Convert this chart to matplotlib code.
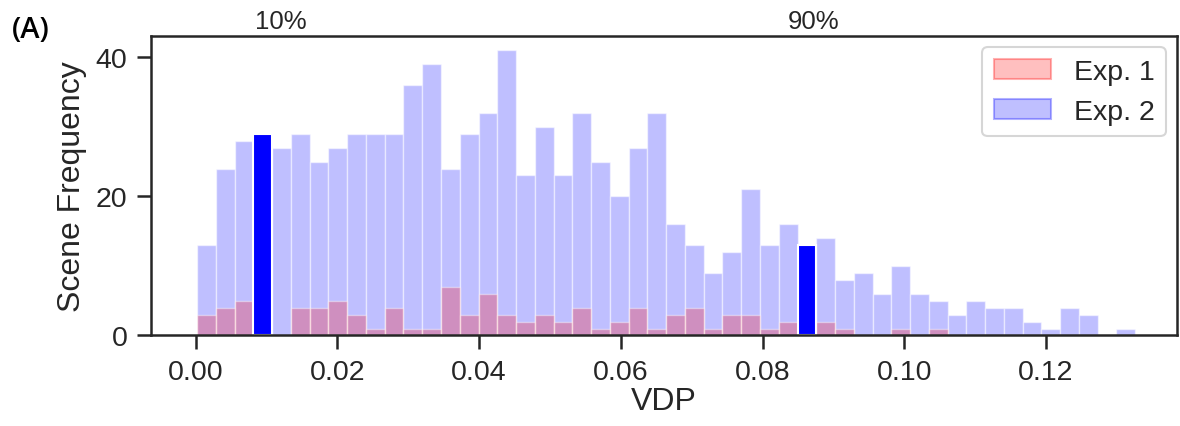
import numpy as np
import matplotlib
matplotlib.use("Agg")
import matplotlib.pyplot as plt
from matplotlib.patches import Patch

plt.rcParams["font.family"] = ["Liberation Sans", "DejaVu Sans"]

# histogram layout: 50 equal bins over the Exp. 2 range
vdp_min = 0.0002
vdp_max = 0.1326
n_bins = 50

exp2_counts = [13, 24, 28, 29, 27, 29, 25, 27, 29, 29,
               29, 36, 39, 24, 29, 32, 41, 23, 30, 23,
               32, 25, 20, 27, 32, 16, 13, 9, 12, 21,
               13, 16, 13, 14, 8, 9, 6, 10, 6, 5,
               3, 5, 4, 4, 2, 1, 4, 3, 0, 1]
exp1_counts = [3, 4, 5, 0, 0, 4, 4, 5, 3, 1,
               4, 1, 1, 7, 3, 6, 3, 2, 3, 2,
               4, 1, 2, 4, 1, 3, 4, 1, 3, 3,
               1, 2, 0, 2, 1, 0, 0, 1, 0, 1,
               0, 0, 0, 0, 0, 0, 0, 0, 0, 0]

# bins holding the 10th / 90th percentile, and where the labels sit
highlight_bins = [3, 32]
pct_labels = ["10%", "90%"]
pct_values = [0.0120, 0.0872]

x_ticks = [0.00, 0.02, 0.04, 0.06, 0.08, 0.10, 0.12]
y_ticks = [0, 20, 40]

edges = np.linspace(vdp_min, vdp_max, n_bins + 1)
width = edges[1] - edges[0]
exp2 = np.array(exp2_counts)
exp1 = np.array(exp1_counts)

fig = plt.figure(figsize=(11.8, 4.27), dpi=100)
ax = fig.add_axes([0.128, 0.212, 0.8695, 0.7014])

ax.bar(edges[:-1], exp2, width=width, align="edge",
       facecolor=(0, 0, 1, 0.25), edgecolor=(1, 1, 1, 0.5), linewidth=1)
ax.bar(edges[:-1], exp1, width=width, align="edge",
       facecolor=(1, 0, 0, 0.25), edgecolor=(1, 1, 1, 0.4), linewidth=1)
ax.bar(edges[highlight_bins], exp2[highlight_bins], width=width, align="edge",
       facecolor="blue", edgecolor="white", linewidth=1.5)

ax.set_xlim(-0.0063, 0.1385)
ax.set_ylim(0, 43.05)
ax.set_xticks(x_ticks)
ax.set_xticklabels([f"{t:.2f}" for t in x_ticks])
ax.set_yticks(y_ticks)

ink = "#262626"
for side in ["left", "right", "top", "bottom"]:
    ax.spines[side].set_linewidth(1.8)
    ax.spines[side].set_color(ink)
ax.tick_params(axis="both", labelsize=20.5, length=10, width=1.8,
               color=ink, labelcolor=ink, pad=7)

ax.set_xlabel("VDP", fontsize=23, color=ink, labelpad=1)
ax.set_ylabel("Scene Frequency", fontsize=23, color=ink, labelpad=6)

# percentile markers along the top edge
top = ax.twiny()
top.set_xlim(ax.get_xlim())
top.set_xticks(pct_values)
top.set_xticklabels(pct_labels)
top.tick_params(axis="x", length=0, labelsize=18.5, labelcolor=ink, pad=2)
for side in ["left", "right", "top", "bottom"]:
    top.spines[side].set_visible(False)

handles = [
    Patch(facecolor=(1, 0, 0, 0.25), edgecolor=(1, 0, 0, 0.3), linewidth=1.5, label="Exp. 1"),
    Patch(facecolor=(0, 0, 1, 0.25), edgecolor=(0, 0, 1, 0.3), linewidth=1.5, label="Exp. 2"),
]
leg = ax.legend(handles=handles, loc="upper right", fontsize=20.5,
                frameon=True, fancybox=True, borderaxespad=0.4)
leg.get_frame().set_edgecolor("#cccccc")
leg.get_frame().set_linewidth(1.5)
for t in leg.get_texts():
    t.set_color(ink)

fig.text(0.026, 0.928, "(A)", fontsize=21, color="black",
         family=["Open Sans", "DejaVu Sans"], weight="semibold",
         ha="center", va="center")

fig.savefig("out.png", dpi=100)
